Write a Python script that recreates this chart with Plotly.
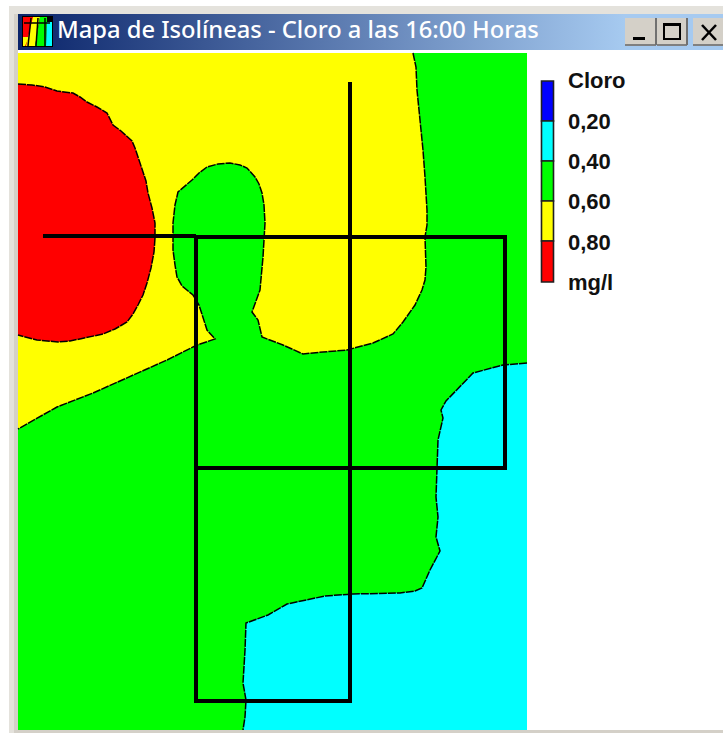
import plotly.graph_objects as go

W, H = 723, 733
MAP_L, MAP_R, MAP_T, MAP_B = 18, 527, 53, 730
C_BLUE, C_CYAN, C_GREEN, C_YELLOW, C_RED = "#0000ff", "#00ffff", "#00ff00", "#ffff00", "#ff0000"

title_text = "Mapa de Isolíneas - Cloro a las 16:00 Horas"

# isoline 0,80 mg/l (red zone)
red_x = [18, 32, 45, 57, 73, 80, 87, 97, 107, 110, 113, 121, 128, 132, 135, 139, 143, 146, 148, 152, 155, 155, 154,
         151, 147, 143, 138, 133, 127, 115, 103, 83, 70, 58, 37, 18]
red_y = [84, 85, 87, 91, 93, 97, 102, 107, 113, 119, 125, 131, 137, 141, 148, 160, 170, 181, 193, 208, 223, 238, 252,
         268, 283, 295, 305, 314, 322, 329, 334, 338, 341, 342, 340, 335]

# isoline 0,60 mg/l (yellow zone boundary, from the top edge round to the left edge)
yellow_x = [413, 416, 417, 420, 423, 425, 427, 427, 425, 426, 425, 422, 415, 403, 393, 373, 347, 323, 303, 283, 262,
            258, 252, 260, 263, 265, 264, 262, 259, 255, 247, 240, 230, 218, 207, 199, 192, 178, 175, 173, 173, 175,
            177, 182, 193, 199, 207, 215, 197, 167, 133, 93, 57, 18]
yellow_y = [53, 67, 90, 117, 150, 177, 210, 225, 237, 267, 280, 290, 305, 322, 334, 343, 350, 352, 354, 345, 337,
            320, 312, 290, 257, 223, 205, 193, 184, 177, 168, 165, 163, 164, 167, 173, 180, 192, 205, 223, 250, 265,
            277, 286, 295, 305, 330, 339, 345, 360, 375, 393, 407, 429]

# isoline 0,40 mg/l (cyan zone boundary, from the right edge to the bottom edge)
cyan_x = [527, 503, 473, 446, 441, 443, 438, 437, 436, 438, 436, 440, 430, 422, 415, 400, 353, 325, 307, 287, 268, 246,
          245, 243, 246, 245, 243]
cyan_y = [363, 365, 373, 401, 410, 418, 440, 468, 497, 517, 537, 551, 570, 588, 591, 593, 594, 596, 600, 604, 615, 623,
          650, 683, 700, 717, 730]

# pipe network
pipe_x = [43, 196, None, 196, 505, 505, 196, 196, 350, 350]
pipe_y = [236, 236, None, 237, 237, 468, 468, 701, 701, 82]
pipe2_x = [196, 196]
pipe2_y = [237, 468]

# legend
legend_colors = [C_BLUE, C_CYAN, C_GREEN, C_YELLOW, C_RED]
legend_base = [81, 121, 161, 201, 241]
legend_height = [40, 40, 40, 40, 41]
legend_labels = ["Cloro", "0,20", "0,40", "0,60", "0,80", "mg/l"]
legend_label_y = [82, 123, 163, 203, 244, 284]

fig = go.Figure()

# title bar gradient
fig.add_trace(go.Scatter(x=[18, W, W, 18, 18], y=[14, 14, 50, 50, 14], mode="lines", fill="toself",
                         line=dict(width=0), hoverinfo="skip",
                         fillgradient=dict(type="horizontal",
                                           colorscale=[[0, "#0a246a"], [0.86, "#a6caf0"], [1, "#a6caf0"]])))


def area(x, y, color):
    fig.add_trace(go.Scatter(x=x, y=y, mode="lines", fill="toself", fillcolor=color,
                             line=dict(width=0, color=color), hoverinfo="skip"))


def isoline(x, y):
    fig.add_trace(go.Scatter(x=x, y=y, mode="lines",
                             line=dict(color="#000000", width=1.5, dash="8px,1px"), hoverinfo="skip"))


area([MAP_L, MAP_R, MAP_R, MAP_L, MAP_L], [MAP_T, MAP_T, MAP_B, MAP_B, MAP_T], C_GREEN)
area(yellow_x + [MAP_L, MAP_L], yellow_y + [MAP_T, MAP_T], C_YELLOW)
area(red_x, red_y, C_RED)
area(cyan_x + [MAP_R], cyan_y + [MAP_B], C_CYAN)
isoline(yellow_x, yellow_y)
isoline(red_x, red_y)
isoline(cyan_x, cyan_y)

fig.add_trace(go.Scatter(x=pipe_x, y=pipe_y, mode="lines", line=dict(color="#000000", width=4), hoverinfo="skip",
                         connectgaps=False))
fig.add_trace(go.Scatter(x=pipe2_x, y=pipe2_y, mode="lines", line=dict(color="#000000", width=4), hoverinfo="skip"))

fig.add_trace(go.Bar(x=[547.5] * 5, y=legend_height, base=legend_base, width=12, marker=dict(
    color=legend_colors, line=dict(color="#202020", width=1.6)), hoverinfo="skip"))

fig.add_trace(go.Scatter(x=[568] * 6, y=legend_label_y, mode="text", text=legend_labels, textposition="middle right",
                         textfont=dict(family="Liberation Sans", size=22, color="#111111", weight="bold"),
                         hoverinfo="skip"))
fig.add_trace(go.Scatter(x=[57], y=[32], mode="text", text=[title_text], textposition="middle right",
                         textfont=dict(family="Noto Sans", size=23.7, color="#ffffff", weight=500), hoverinfo="skip"))


def rect(x0, y0, x1, y1, fill, line=None, lw=0, layer="below"):
    return dict(type="rect", x0=x0, y0=y0, x1=x1, y1=y1, fillcolor=fill, layer=layer,
                line=dict(color=line or fill, width=lw))


def seg(x0, y0, x1, y1, color="#000000", lw=2):
    return dict(type="line", x0=x0, y0=y0, x1=x1, y1=y1, layer="above", line=dict(color=color, width=lw))


def poly(path, fill):
    return dict(type="path", path=path, fillcolor=fill, line=dict(width=0), layer="above")


BTN = "#d4d0c8"
shapes = [
    rect(9, 6, W, 14, "#e4e2dc"),
    rect(9, 6, 18, 733, "#e4e2dc"),
    rect(14, 14, 18, 733, "#d4d0c8"),
    rect(14, MAP_B, W, H, "#d4d0c8"),
    # window buttons
    rect(625, 18, 656, 45, BTN, layer="above"), seg(625, 45, 656, 45, "#808080"), seg(656, 18, 656, 45, "#707070"),
    rect(657, 18, 687, 45, BTN, layer="above"), seg(657, 45, 687, 45, "#808080"), seg(687, 18, 687, 45, "#707070"),
    rect(693, 18, 723, 45, BTN, layer="above"), seg(693, 45, 723, 45, "#808080"),
    seg(633, 38.5, 645, 38.5, lw=3),
    dict(type="rect", x0=664, y0=24, x1=680, y1=39, layer="above", line=dict(color="#000000", width=2)),
    seg(664, 24.5, 680, 24.5, lw=3),
    seg(702, 25, 716, 40, lw=2.5), seg(716, 25, 702, 40, lw=2.5),
    # application icon
    rect(22, 16, 53, 47, "#000000", layer="above"),
    rect(23, 17, 33, 46, C_RED, layer="above"),
    poly("M33,17 L40,17 L35,46 L26,46 Z", C_YELLOW),
    poly("M40,17 L47,17 L46,46 L35,46 Z", C_GREEN),
    poly("M47,22 L52,22 L52,46 L46,46 Z", C_CYAN),
    poly("M23,37 L29,37 L25,46 L23,46 Z", C_YELLOW),
    seg(24, 23, 50, 23, lw=1.5), seg(31, 18, 28, 46, lw=1.5), seg(38, 18, 36, 46, lw=1.5), seg(45, 18, 45, 46, lw=1.5),
]

fig.update_layout(
    width=W, height=H, margin=dict(l=0, r=0, t=0, b=0), paper_bgcolor="#ffffff", plot_bgcolor="#ffffff",
    showlegend=False, shapes=shapes,
    xaxis=dict(range=[0, W], visible=False, fixedrange=True),
    yaxis=dict(range=[H, 0], visible=False, fixedrange=True),
)
fig.write_html("out.html", config=dict(displayModeBar=False),
               post_script="document.body.style.margin='0';document.documentElement.style.overflow='hidden';")
